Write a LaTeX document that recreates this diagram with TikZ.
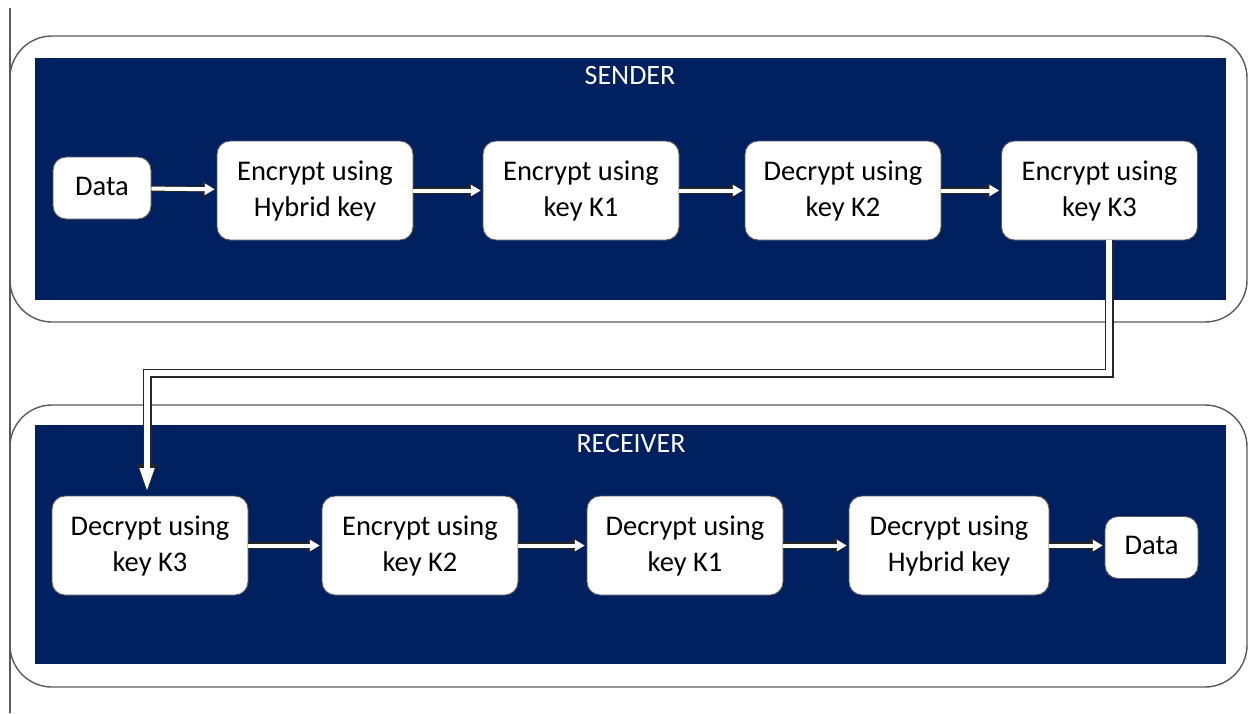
\documentclass[tikz,border=0pt]{standalone}
\usepackage{fontspec}
\setmainfont{Carlito}
\usepackage{xcolor}
\usepackage{tikz}
\usetikzlibrary{arrows.meta}
\definecolor{panelblue}{HTML}{002060}
\definecolor{framegray}{HTML}{5A5A5A}

\begin{document}
\begin{tikzpicture}[x=1pt,y=-1pt,
    frame/.style={draw=framegray,line width=1.4,rounded corners=42},
    panel/.style={fill=panelblue},
    title/.style={text=white,font=\fontsize{28}{32}\selectfont},
    stepbox/.style={draw=framegray,fill=white,line width=0.9,rounded corners=13,align=center,
      minimum width=196,minimum height=99,inner sep=0,font=\fontsize{28.5}{36}\selectfont},
    databox/.style={stepbox,minimum width=98,minimum height=62},
    flow/.style={preaction={draw=black!85,line width=6.5,-{Triangle[length=13,width=15]}},
      draw=white,line width=4,shorten >=1.8,-{Triangle[length=10,width=11]}},
    link/.style={preaction={draw=black!85,line width=9,-{Triangle[length=29,width=17]}},
      draw=white,line width=6.5,shorten >=2.5,-{Triangle[length=25,width=13]}}]
    \useasboundingbox (0,0) rectangle (1249,713);
    \draw[framegray,line width=1.2] (10,8) -- (10,713);
    \begin{scope}
      \draw[frame] (10,36) rectangle (1247,322);
      \fill[panel] (35,58) rectangle (1226,300);
      \node[title] (sender) at (630,76) {SENDER};
      \node[databox] (sdata) at (102,188) {Data\strut};
      \node[stepbox] (shyb) at (315,190.5) {Encrypt using\\Hybrid key};
      \node[stepbox] (sk1) at (581,190.5) {Encrypt using\\key K1};
      \node[stepbox] (sk2) at (843,190.5) {Decrypt using\\key K2};
      \node[stepbox] (sk3) at (1099.5,190.5) {Encrypt using\\key K3};
    \end{scope}
    \begin{scope}
      \draw[frame] (10,405) rectangle (1247,687);
      \fill[panel] (35,425) rectangle (1226,664);
      \node[title] (receiver) at (631,443) {RECEIVER};
      \node[stepbox] (rk3) at (150,545.5) {Decrypt using\\key K3};
      \node[stepbox] (rk2) at (420,545.5) {Encrypt using\\key K2};
      \node[stepbox] (rk1) at (685,545.5) {Decrypt using\\key K1};
      \node[stepbox,minimum width=200] (rhyb) at (949,545.5) {Decrypt using\\Hybrid key};
      \node[databox,minimum width=93] (rdata) at (1151.5,547.5) {Data\strut};
    \end{scope}
    \draw[flow] (sdata) -- (shyb);
    \draw[flow] (shyb) -- (sk1);
    \draw[flow] (sk1) -- (sk2);
    \draw[flow] (sk2) -- (sk3);
    \draw[flow] (rk3) -- (rk2);
    \draw[flow] (rk2) -- (rk1);
    \draw[flow] (rk1) -- (rhyb);
    \draw[flow] (rhyb.east) -- (rdata.west |- rhyb.east);
    \coordinate (turn) at (147,373);
    \draw[link] ([xshift=9.5]sk3.south) |- (turn) -- (rk3.north -| turn);
  \end{tikzpicture}
\end{document}
